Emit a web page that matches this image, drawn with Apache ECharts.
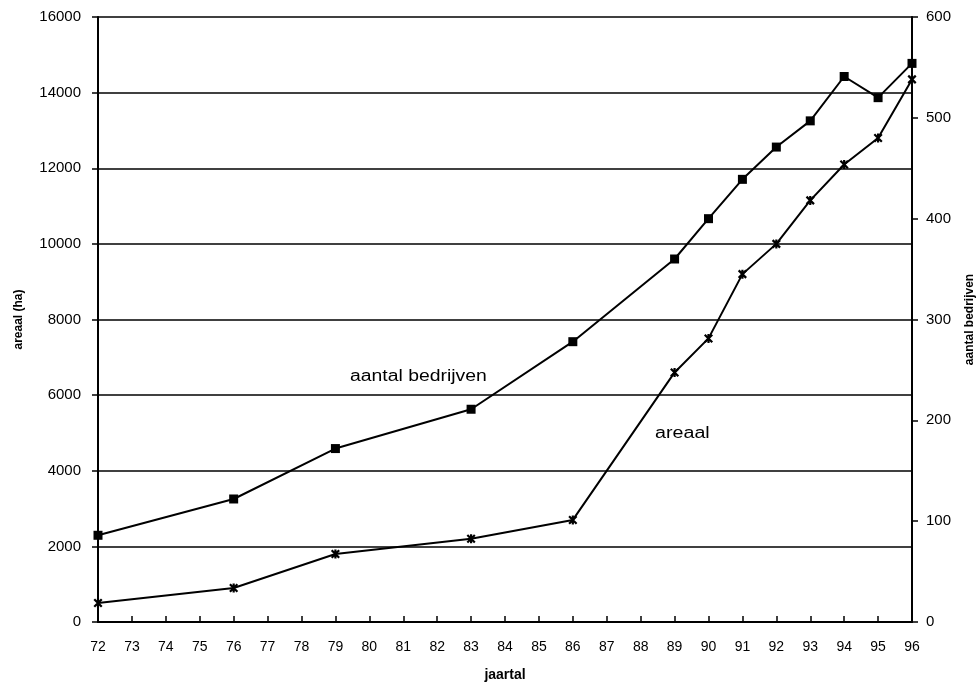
<!DOCTYPE html>
<html>
<head>
<meta charset="utf-8">
<script src="https://cdn.jsdelivr.net/npm/echarts@6/dist/echarts.min.js"></script>
<style>
html,body{margin:0;padding:0;background:#fff;}
#c{width:979px;height:682px;}
</style>
</head>
<body>
<div id="c"></div>
<script>
// Data
var years = [72, 76, 79, 83, 86, 89, 90, 91, 92, 93, 94, 95, 96];
var areaal = [500, 900, 1800, 2200, 2700, 6600, 7500, 9200, 10000, 11150, 12100, 12800, 14350];
var bedrijven = [86, 122, 172, 211, 278, 360, 400, 439, 471, 497, 541, 520, 554];
var leftTicks = [0, 16000, 2000];
var rightTicks = [0, 600, 100];
var xRange = [72, 96, 1];

function pairs(xs, ys){ return xs.map(function(x,i){ return [x, ys[i]]; }); }
function plain(v){ return String(v); }

var FONT = 'Liberation Sans, Arial, sans-serif';
var chart = echarts.init(document.getElementById('c'));
var star = 'path://M0,0L10,10M10,0L0,10M5,-1L5,11';

chart.setOption({
  animation: false,
  backgroundColor: '#fff',
  textStyle: {fontFamily: FONT, color: '#000'},
  grid: {left: 98, right: 67, top: 17, bottom: 60, containLabel: false, outerBoundsMode: 'none'},
  xAxis: {
    type: 'value', min: xRange[0], max: xRange[1], interval: xRange[2],
    name: 'jaartal', nameLocation: 'middle', nameGap: 46,
    nameTextStyle: {fontFamily: FONT, fontWeight: 'bold', fontSize: 14, color: '#000'},
    axisLine: {lineStyle: {color: '#000', width: 2}},
    axisTick: {inside: true, length: 6, lineStyle: {color: '#000', width: 1.5}},
    axisLabel: {fontFamily: FONT, fontSize: 14, color: '#000', margin: 18, formatter: plain},
    splitLine: {show: false}
  },
  yAxis: [{
    type: 'value', min: leftTicks[0], max: leftTicks[1], interval: leftTicks[2],
    position: 'left',
    name: 'areaal (ha)', nameLocation: 'middle', nameGap: 73,
    nameTextStyle: {fontFamily: FONT, fontWeight: 'bold', fontSize: 12, color: '#000'},
    axisLine: {show: true, lineStyle: {color: '#000', width: 2}},
    axisTick: {show: true, length: 6, lineStyle: {color: '#000', width: 1.5}},
    axisLabel: {fontFamily: FONT, fontSize: 15, color: '#000', margin: 17, formatter: plain},
    splitLine: {show: true, lineStyle: {color: '#000', width: 1.5}}
  }, {
    type: 'value', min: rightTicks[0], max: rightTicks[1], interval: rightTicks[2],
    position: 'right',
    name: 'aantal bedrijven', nameLocation: 'middle', nameGap: 52,
    nameTextStyle: {fontFamily: FONT, fontWeight: 'bold', fontSize: 12, color: '#000'},
    axisLine: {show: true, lineStyle: {color: '#000', width: 2}},
    axisTick: {show: true, length: 6, lineStyle: {color: '#000', width: 1.5}},
    axisLabel: {fontFamily: FONT, fontSize: 15, color: '#000', margin: 14, formatter: plain},
    splitLine: {show: false}
  }],
  series: [{
    name: 'aantal bedrijven', type: 'line', yAxisIndex: 1,
    data: pairs(years, bedrijven),
    symbol: 'rect', symbolSize: 9,
    lineStyle: {color: '#000', width: 2},
    itemStyle: {color: '#000'}
  }, {
    name: 'areaal', type: 'line', yAxisIndex: 0,
    data: pairs(years, areaal),
    symbol: star, symbolSize: 9, symbolKeepAspect: true,
    lineStyle: {color: '#000', width: 2},
    itemStyle: {color: '#000', borderColor: '#000', borderWidth: 2.2}
  }],
  graphic: [
    {type: 'text', x: 350, y: 369, scaleX: 1.21, style: {text: 'aantal bedrijven', font: '16px ' + FONT, fill: '#000'}},
    {type: 'text', x: 655, y: 426, scaleX: 1.23, style: {text: 'areaal', font: '16px ' + FONT, fill: '#000'}}
  ]
});
</script>
</body>
</html>
